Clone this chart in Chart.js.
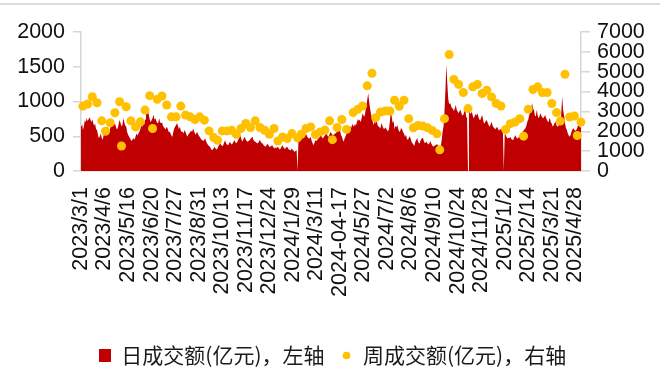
<!DOCTYPE html>
<html><head><meta charset="utf-8">
<script src="https://cdn.jsdelivr.net/npm/chart.js@4.4.1/dist/chart.umd.min.js"></script>
<style>
html,body{margin:0;padding:0;background:#fff;}
#wrap{position:relative;width:665px;height:389px;overflow:hidden;}
#topline{position:absolute;left:0;top:3px;width:660px;height:2px;background:#dcdcdc;}
canvas{position:absolute;left:0;top:0;}
</style></head><body>
<div id="wrap"><canvas id="c" width="665" height="389"></canvas><div id="topline"></div></div>
<script>
// x-axis tick labels (one every 25 trading days), as printed on the chart
const tickLabels = ['2023/3/1','2023/4/6','2023/5/16','2023/6/20','2023/7/27','2023/8/31','2023/10/13','2023/11/17','2023/12/24','2024/1/29','2024/3/11','2024-04-17','2024/5/27','2024/7/2','2024/8/6','2024/9/10','2024/10/24','2024/11/28','2025/1/2','2025/2/14','2025/3/21','2025/4/28'];

// trading calendar
const startDate = '2023-03-01';
const endDate = '2025-05-09';
const closedDays = ['2023-04-05','2023-05-01','2023-05-02','2023-05-03','2023-06-22','2023-06-23','2023-09-29','2023-10-02','2023-10-03','2023-10-04','2023-10-05','2023-10-06',
 '2024-01-01','2024-02-09','2024-02-12','2024-02-13','2024-02-14','2024-02-15','2024-02-16','2024-04-04','2024-04-05','2024-05-01','2024-05-02','2024-05-03','2024-06-10','2024-09-16','2024-09-17','2024-10-01','2024-10-02','2024-10-03','2024-10-04','2024-10-07',
 '2025-01-28','2025-01-29','2025-01-30','2025-01-31','2025-02-03','2025-02-04','2025-04-04','2025-05-01','2025-05-02','2025-05-05'];
const extraDays = ['2024-02-04'];

// 日成交额(亿元), left axis
const dailyValues = [
650,700,590,640,730,700,760,720,740,775,
740,700,745,690,650,685,600,590,520,470,
500,540,480,445,520,565,530,600,637,580,
560,615,660,700,735,650,690,640,600,615,
680,735,690,640,665,760,700,650,640,560,
520,495,470,445,430,460,470,450,500,540,
510,540,565,600,660,630,690,660,740,805,
850,880,810,740,700,735,760,810,740,760,
720,690,686,760,700,690,710,650,630,612,
600,637,610,560,570,540,510,490,560,613,
640,660,690,650,600,637,580,560,565,540,
590,560,520,493,530,540,565,580,560,613,
580,541,520,565,540,510,493,470,450,444,
430,450,468,420,396,370,360,348,320,300,
310,330,348,320,310,324,360,380,396,370,
360,372,410,444,400,380,372,390,420,400,
380,396,420,444,410,400,420,450,480,517,
470,430,444,470,493,450,430,420,430,444,
460,480,493,450,430,420,410,396,410,430,
444,420,400,396,370,360,348,370,396,370,
350,348,360,372,350,330,324,340,330,348,
330,310,324,350,372,340,320,324,340,348,
320,310,300,310,324,300,290,275,290,300,
0,468,490,500,517,490,470,493,510,541,
500,480,468,470,493,430,400,372,410,444,
430,450,468,480,500,517,480,470,493,510,
530,541,500,493,530,565,540,520,517,530,
540,550,565,580,600,590,520,493,450,420,
470,500,541,580,560,600,640,620,680,650,
640,680,650,700,750,720,740,700,760,830,
800,780,850,940,1020,1120,1000,900,820,760,
700,660,750,680,730,660,640,630,610,690,
650,620,600,630,610,590,570,600,710,855,
780,690,720,600,650,630,662,600,560,580,
620,600,560,540,493,520,470,445,470,500,
470,420,400,380,360,420,444,480,420,400,
420,445,470,480,440,400,410,420,397,380,
400,430,396,370,348,360,370,372,390,370,
340,330,348,440,560,640,850,1150,1532,1260,
1040,960,980,940,900,904,860,900,952,880,
855,830,860,880,830,800,807,850,904,783,
760,0,880,840,820,855,800,760,783,820,
800,832,780,740,735,770,807,740,687,700,
720,735,690,660,638,670,710,660,630,614,
600,620,638,600,580,600,614,590,620,0,
540,517,490,469,480,470,493,460,450,445,
480,517,490,470,469,490,510,517,540,565,
580,600,614,650,710,740,807,850,880,977,
900,880,800,783,880,800,759,790,832,790,
770,759,780,807,760,730,710,740,759,700,
680,638,660,690,710,660,638,650,670,687,
820,1072,880,800,687,620,590,540,510,493,
520,565,600,614,590,580,590,620,662,640,638,620];

// 周成交额(亿元), right axis — one value per calendar week (null = no point shown)
const weeklyValues = [
3270,3372,3743,3439,2527,2003,2425,2932,3490,1259,
3236,2527,2222,2476,3067,3794,2138,3608,3777,3321,
2729,2729,3270,2814,2729,2594,2729,2560,2020,1682,
1546,2020,2020,2053,1850,2138,2391,2189,2527,2189,
2053,1850,2138,1513,1715,1631,1884,1665,1850,2138,
2222,1834,1969,2053,2527,1580,2189,2594,2094,null,
2940,3108,3275,4290,4918,2687,2971,3022,3022,3564,
3260,3564,2636,2180,2297,2260,2180,2043,1876,1064,
2636,null,5861,4614,4360,3955,3143,4239,4360,3904,
4071,3731,3397,3275,2090,2383,2464,2636,null,1754,
3108,4107,4239,3955,3955,3397,2941,2515,4867,2717,
2768,1790,2464];

const leftTicks = [0,500,1000,1500,2000];
const rightTicks = [0,1000,2000,3000,4000,5000,6000,7000];

// ---- build categories (trading days) ----
const pad = n => (n < 10 ? '0' : '') + n;
const iso = d => d.getUTCFullYear() + '-' + pad(d.getUTCMonth() + 1) + '-' + pad(d.getUTCDate());
const categories = [];
const weekKeys = [];
{
  const d = new Date(startDate + 'T00:00:00Z');
  const end = new Date(endDate + 'T00:00:00Z');
  while (d <= end) {
    const s = iso(d);
    const wd = d.getUTCDay();
    const open = (wd >= 1 && wd <= 5 && closedDays.indexOf(s) < 0) || extraDays.indexOf(s) >= 0;
    if (open) {
      categories.push(d.getUTCFullYear() + '/' + (d.getUTCMonth() + 1) + '/' + d.getUTCDate());
      const mon = new Date(d.getTime() - ((wd + 6) % 7) * 86400000);
      weekKeys.push(iso(mon));
    }
    d.setUTCDate(d.getUTCDate() + 1);
  }
}
// weekly values sit on the last trading day of each week
const weeklySeries = new Array(categories.length).fill(null);
{
  let k = -1, prev = null;
  const lastIdx = [];
  weekKeys.forEach((w, i) => { if (w !== prev) { k++; prev = w; } lastIdx[k] = i; });
  weeklyValues.forEach((v, j) => { if (v !== null && lastIdx[j] !== undefined) weeklySeries[lastIdx[j]] = v; });
}

// legend markers
function marker(w, h, draw) { const c = document.createElement('canvas'); c.width = w; c.height = h; draw(c.getContext('2d')); return c; }
const redBox = marker(12, 13, g => { g.fillStyle = '#C00000'; g.fillRect(0, 0, 12, 13); });
const yellowDot = marker(9, 9, g => { g.fillStyle = '#FFC000'; g.beginPath(); g.arc(4.5, 4.5, 3.8, 0, Math.PI * 2); g.fill(); });

const axisFont = { family: 'Liberation Sans, Arial, sans-serif', size: 21.5 };
const gray = '#d6d6d6';

new Chart(document.getElementById('c'), {
  type: 'line',
  data: {
    labels: categories,
    datasets: [
      { label: '周成交额(亿元)，右轴', data: weeklySeries, yAxisID: 'y1', showLine: false,
        pointRadius: 4.5, pointHoverRadius: 4.5, pointBackgroundColor: '#FFC000', pointBorderWidth: 0, order: 0 },
      { label: '日成交额(亿元)，左轴', data: dailyValues, yAxisID: 'y', fill: 'origin',
        backgroundColor: '#C00000', borderColor: 'rgba(0,0,0,0)', borderWidth: 0, pointRadius: 0, tension: 0, order: 1 }
    ]
  },
  options: {
    responsive: false, animation: false, events: [],
    layout: { padding: { top: 32, bottom: 13, left: 0, right: 0 } },
    plugins: {
      tooltip: { enabled: false },
      legend: {
        position: 'bottom',
        labels: {
          usePointStyle: true, boxWidth: 12, boxHeight: 13, padding: 16, color: '#1a1a1a',
          font: { family: 'Noto Sans CJK SC, sans-serif', size: 21 },
          generateLabels: chart => [
            { text: chart.data.datasets[1].label, pointStyle: redBox, datasetIndex: 1, hidden: false, lineWidth: 0, fillStyle: '#C00000', strokeStyle: '#C00000', fontColor: '#1a1a1a' },
            { text: chart.data.datasets[0].label, pointStyle: yellowDot, datasetIndex: 0, hidden: false, lineWidth: 0, fillStyle: '#FFC000', strokeStyle: '#FFC000', fontColor: '#1a1a1a' }
          ]
        }
      }
    },
    scales: {
      x: {
        type: 'category',
        grid: { display: false, drawTicks: false },
        border: { display: true, color: gray, width: 1.5 },
        ticks: { autoSkip: false, minRotation: 90, maxRotation: 90, padding: 16, color: '#111', font: axisFont,
          callback: (v, i) => (i % 25 === 0 && tickLabels[i / 25] !== undefined) ? tickLabels[i / 25] : '' },
        afterFit: s => { s.height = 158; }
      },
      y: {
        position: 'left', min: 0, max: 2000,
        afterBuildTicks: s => { s.ticks = leftTicks.map(v => ({ value: v })); },
        ticks: { autoSkip: false, padding: 8, color: '#111', font: axisFont, callback: v => String(v) },
        grid: { drawOnChartArea: false, drawTicks: true, tickLength: 8, color: gray, lineWidth: 1.5 },
        border: { display: true, color: gray, width: 1.5 },
        afterFit: s => { s.width = 81; }
      },
      y1: {
        position: 'right', min: 0, max: 7000,
        afterBuildTicks: s => { s.ticks = rightTicks.map(v => ({ value: v })); },
        ticks: { autoSkip: false, padding: 7, color: '#111', font: axisFont, callback: v => String(v) },
        grid: { drawOnChartArea: false, drawTicks: true, tickLength: 9, color: gray, lineWidth: 1.5 },
        border: { display: true, color: gray, width: 1.5 },
        afterFit: s => { s.width = 84; }
      }
    }
  }
});
</script>
</body></html>
